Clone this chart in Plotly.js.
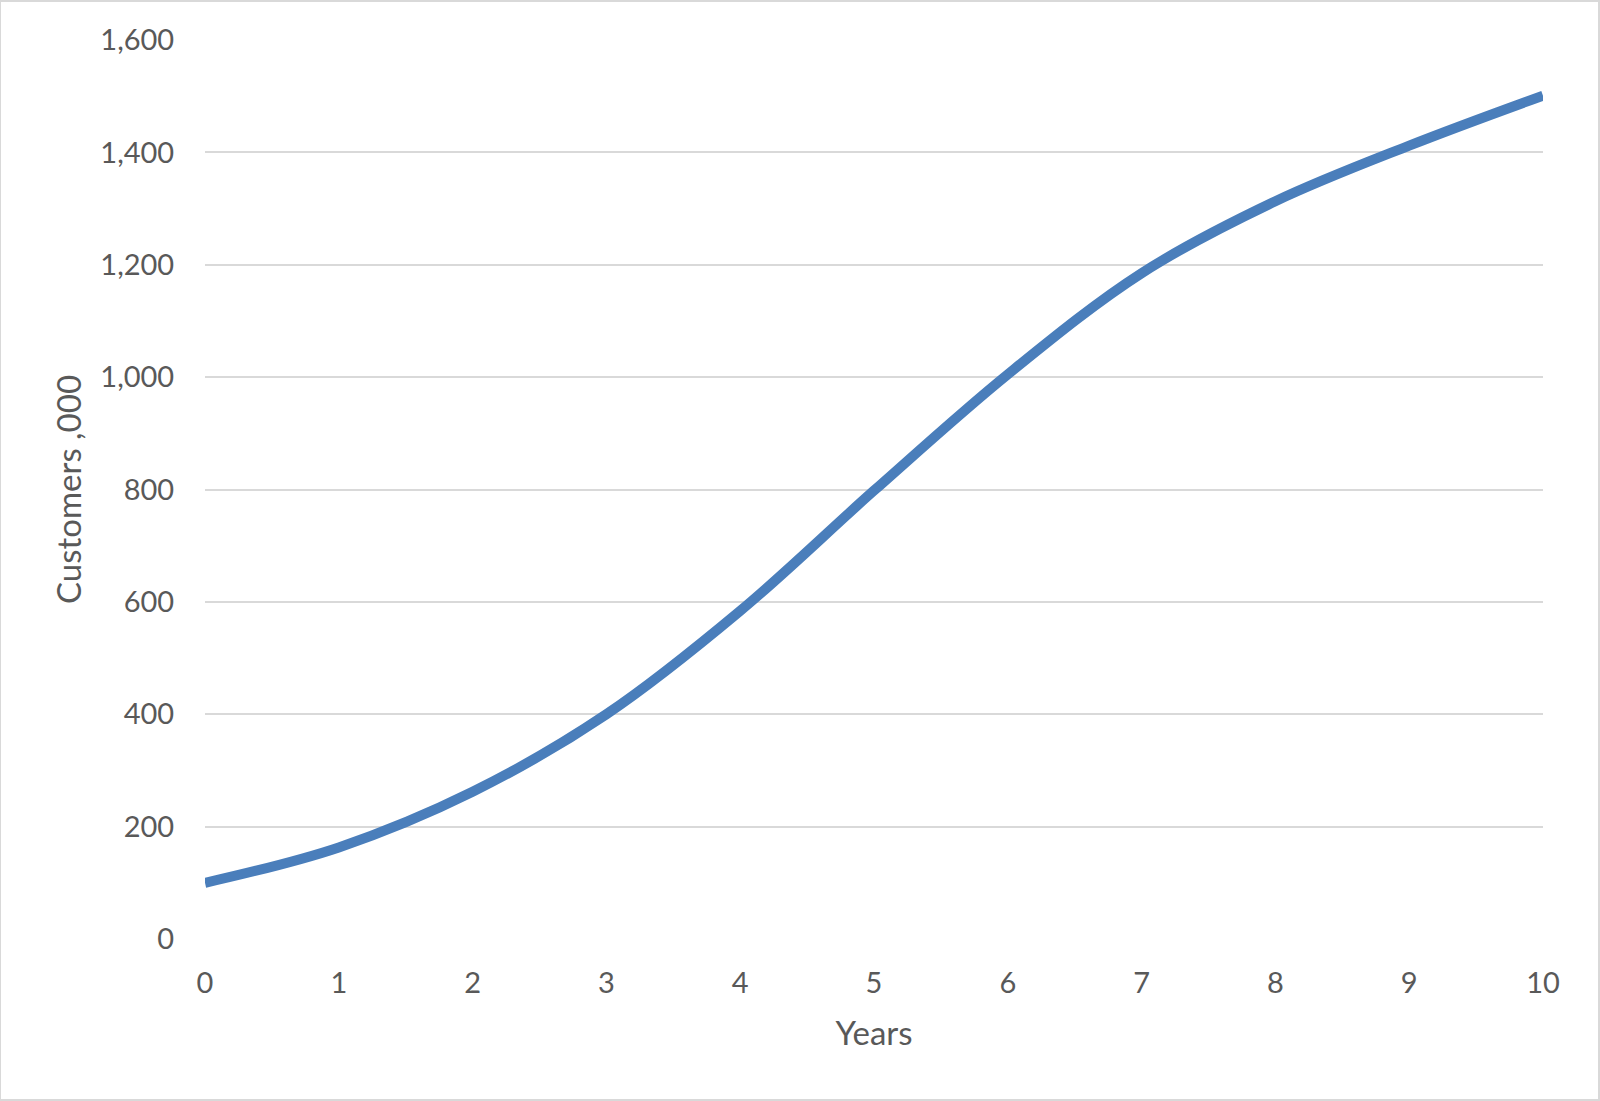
<!DOCTYPE html>
<html>
<head>
<meta charset="utf-8">
<script src="https://cdn.plot.ly/plotly-3.0.1.min.js"></script>
<style>
  html, body { margin: 0; padding: 0; background: #fff; }
  #chart { width: 1600px; height: 1101px; }
</style>
</head>
<body>
<div id="chart"></div>
<script>
const years = [0, 1, 2, 3, 4, 5, 6, 7, 8, 9, 10];
const customers = [100, 163, 262, 400, 584, 798, 1005, 1185, 1313, 1412, 1501];
const xTickVals = [0, 1, 2, 3, 4, 5, 6, 7, 8, 9, 10];
const yTickVals = [0, 200, 400, 600, 800, 1000, 1200, 1400, 1600];
const yTickText = ["0", "200", "400", "600", "800", "1,000", "1,200", "1,400", "1,600"];

const textColor = "#595959";
const fontFamily = "Lato, 'Open Sans', sans-serif";

const trace = {
  x: years,
  y: customers,
  type: "scatter",
  mode: "lines",
  line: { color: "#4a7ebb", width: 10, shape: "spline", smoothing: 1 },
  hoverinfo: "skip"
};

const layout = {
  width: 1600,
  height: 1101,
  paper_bgcolor: "#ffffff",
  plot_bgcolor: "#ffffff",
  margin: { l: 205, r: 57, t: 40, b: 162 },
  showlegend: false,
  font: { family: fontFamily, color: textColor, size: 29 },
  xaxis: {
    range: [0, 10],
    tickvals: xTickVals,
    ticktext: xTickVals.map(String),
    showgrid: false,
    zeroline: false,
    showline: false,
    ticks: "outside",
    ticklen: 18,
    tickcolor: "rgba(0,0,0,0)",
    tickfont: { size: 29, color: textColor, family: fontFamily },
    title: { text: "Years", font: { size: 33, color: textColor, family: fontFamily }, standoff: 24 }
  },
  yaxis: {
    range: [0, 1600],
    tickvals: yTickVals,
    ticktext: yTickText,
    showgrid: true,
    gridcolor: "#d9d9d9",
    gridwidth: 2,
    zeroline: false,
    showline: false,
    ticks: "outside",
    ticklen: 24,
    tickcolor: "rgba(0,0,0,0)",
    tickfont: { size: 29, color: textColor, family: fontFamily },
    title: { text: "Customers ,000", font: { size: 33, color: textColor, family: fontFamily }, standoff: 8 }
  },
  shapes: [{
    type: "rect", xref: "paper", yref: "paper",
    x0: -205/1338, x1: 1 + 56/1338, y0: -161/899, y1: 1 + 39/899,
    line: { color: "#d9d9d9", width: 2 }
  }]
};

Plotly.newPlot("chart", [trace], layout, { displayModeBar: false, staticPlot: true });
</script>
</body>
</html>
